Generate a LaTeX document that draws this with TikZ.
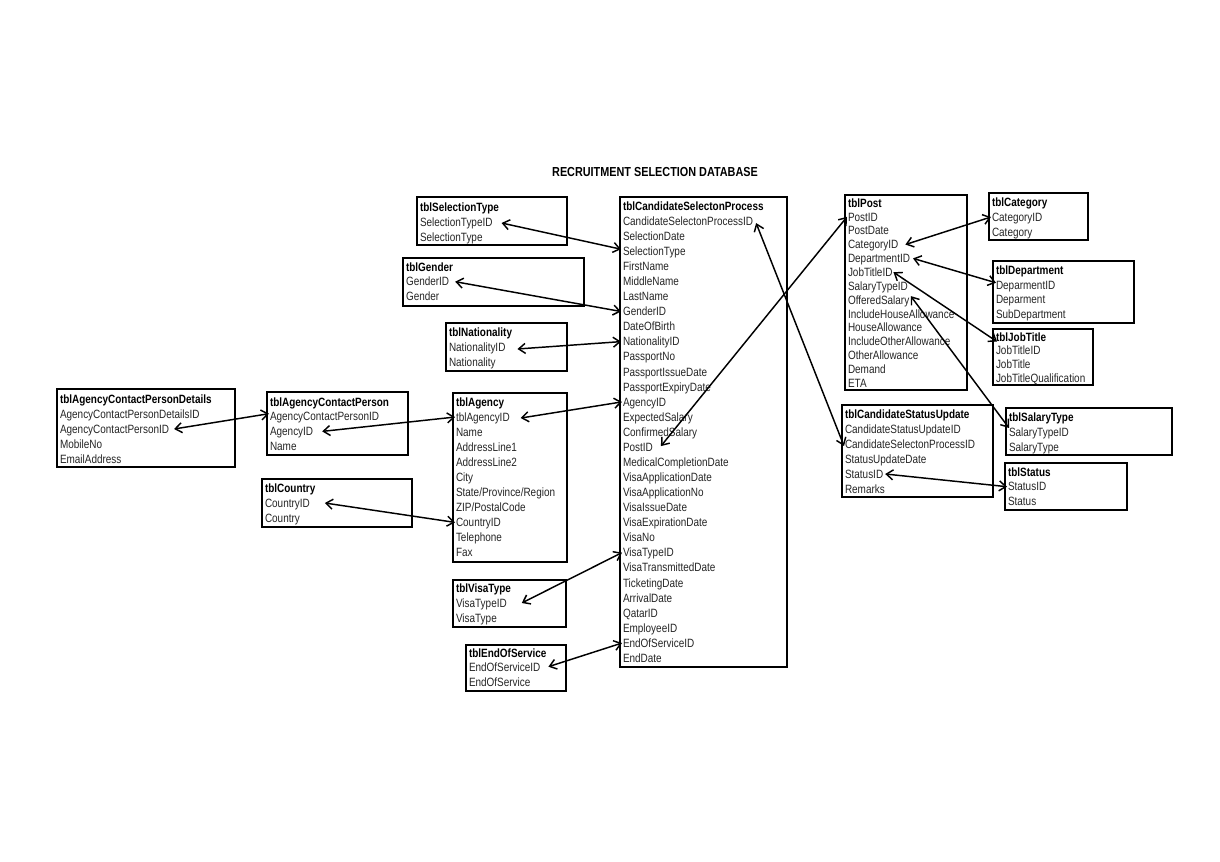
\documentclass[tikz,border=0pt]{standalone}
\usepackage{fontspec}
\setmainfont{Liberation Sans}[FakeStretch=0.83]
\usetikzlibrary{arrows.meta,calc}
\tikzset{
  tbox/.style={draw=black, line width=1.2pt, inner sep=0pt, outer sep=0pt, anchor=north west},
  rowtxt/.style={inner sep=0pt, outer sep=0pt, anchor=west, text height=6.4pt, text depth=0pt,
                 font=\fontsize{9}{10}\selectfont, text=black!85},
  hdrtxt/.style={rowtxt, font=\fontsize{9}{10}\selectfont\bfseries, text=black},
  titletxt/.style={inner sep=0pt, font=\fontsize{9.8}{11}\selectfont\bfseries},
  rel/.style={<->, line width=1.1pt, >={Straight Barb[length=5pt,width=7.5pt,line width=1.1pt]}}
}
% #1 name, #2 left, #3 top, #4 right, #5 bottom, #6 title, #7 header y, #8 row step, #9 rows
\newcommand{\dbtable}[9]{%
  \node[tbox, minimum width={(#4-#2)*0.75pt}, minimum height={(#5-#3)*0.75pt}] (#1) at (#2,#3) {};
  \node[hdrtxt] (#1-0) at ({#2+3},{#7}) {#6};
  \foreach \r [count=\i] in {#9} {
    \node[rowtxt] (#1-\i) at ({#2+3},{#7+\i*#8}) {\r};
  }%
}
\begin{document}
\begin{tikzpicture}[x=0.75pt,y=-0.75pt]
\useasboundingbox[fill=white] (0,0) rectangle (1220,862);

\node[titletxt] (title) at (655,172) {RECRUITMENT SELECTION DATABASE};

\dbtable{st}{417}{197}{567}{245}{tblSelectionType}{207}{15}{SelectionTypeID,SelectionType}
\dbtable{gd}{403}{258}{584}{306}{tblGender}{267}{14.7}{GenderID,Gender}
\dbtable{na}{446}{323}{567}{371}{tblNationality}{332}{15}{NationalityID,Nationality}
\dbtable{cp}{620}{197}{787}{667}{tblCandidateSelectonProcess}{206}{15.07}{CandidateSelectonProcessID,SelectionDate,SelectionType,FirstName,MiddleName,LastName,GenderID,DateOfBirth,NationalityID,PassportNo,PassportIssueDate,PassportExpiryDate,AgencyID,ExpectedSalary,ConfirmedSalary,PostID,MedicalCompletionDate,VisaApplicationDate,VisaApplicationNo,VisaIssueDate,VisaExpirationDate,VisaNo,VisaTypeID,VisaTransmittedDate,TicketingDate,ArrivalDate,QatarID,EmployeeID,EndOfServiceID,EndDate}
\dbtable{acpd}{57}{389}{235}{467}{tblAgencyContactPersonDetails}{399}{15}{AgencyContactPersonDetailsID,AgencyContactPersonID,MobileNo,EmailAddress}
\dbtable{acp}{267}{392}{408}{455}{tblAgencyContactPerson}{402}{14.7}{AgencyContactPersonID,AgencyID,Name}
\dbtable{co}{262}{479}{412}{527}{tblCountry}{488}{15}{CountryID,Country}
\dbtable{ag}{453}{393}{567}{562}{tblAgency}{402}{15.05}{tblAgencyID,Name,AddressLine1,AddressLine2,City,State/Province/Region,ZIP/PostalCode,CountryID,Telephone,Fax}
\dbtable{vt}{453}{580}{566}{627}{tblVisaType}{588}{15}{VisaTypeID,VisaType}
\dbtable{eos}{466}{645}{566}{691}{tblEndOfService}{653}{14.7}{EndOfServiceID,EndOfService}
\dbtable{po}{845}{195}{967}{390}{tblPost}{203}{13.85}{PostID,PostDate,CategoryID,DepartmentID,JobTitleID,SalaryTypeID,OfferedSalary,IncludeHouseAllowance,HouseAllowance,IncludeOtherAllowance,OtherAllowance,Demand,ETA}
\dbtable{cat}{989}{193}{1088}{240}{tblCategory}{202}{15}{CategoryID,Category}
\dbtable{dep}{993}{261}{1134}{323}{tblDepartment}{270}{14.8}{DeparmentID,Deparment,SubDepartment}
\dbtable{jt}{993}{329}{1093}{385}{tblJobTitle}{337}{13.6}{JobTitleID,JobTitle,JobTitleQualification}
\dbtable{csu}{842}{405}{993}{497}{tblCandidateStatusUpdate}{414}{15}{CandidateStatusUpdateID,CandidateSelectonProcessID,StatusUpdateDate,StatusID,Remarks}
\dbtable{sal}{1006}{408}{1172}{455}{tblSalaryType}{417}{15}{SalaryTypeID,SalaryType}
\dbtable{stt}{1005}{463}{1127}{510}{tblStatus}{472}{14.7}{StatusID,Status}

% relationships
\draw[rel] ($(st-1.east)+(9,1)$) -- ($(cp-3.west)+(-2,-2)$);
\draw[rel] ($(gd-1.east)+(6,0)$) -- ($(cp-7.west)+(-2,0)$);
\draw[rel] ($(na-1.east)+(12,2)$) -- ($(cp-9.west)+(-2,0)$);
\draw[rel] ($(acpd-2.east)+(5,0)$) -- ($(acp-1.west)+(-1,-3)$);
\draw[rel] ($(acp-2.east)+(9,0)$) -- ($(ag-1.west)+(-1,0)$);
\draw[rel] ($(ag-1.east)+(11,1)$) -- ($(cp-13.west)+(-1,0)$);
\draw[rel] ($(co-1.east)+(15,0)$) -- ($(ag-8.west)+(-1,0)$);
\draw[rel] ($(vt-1.east)+(15,0)$) -- ($(cp-23.west)+(-1,0)$);
\draw[rel] ($(eos-1.east)+(8,-1)$) -- ($(cp-29.west)+(-1,0)$);
\draw[rel] ($(cp-16.east)+(8,-1)$) -- ($(po-1.west)+(-1,0)$);
\draw[rel] ($(cp-1.east)+(3,2)$) -- ($(csu-2.west)+(-1,2)$);
\draw[rel] ($(po-3.east)+(7,0)$) -- ($(cat-1.west)+(-1,0)$);
\draw[rel] ($(po-4.east)+(3,0)$) -- ($(dep-1.west)+(0,-2)$);
\draw[rel] ($(po-5.east)+(1,0)$) -- ($(jt-1.west)+(1,-9)$);
\draw[rel] ($(po-6.east)+(3,10)$) -- ($(sal-1.west)+(0,-4)$);
\draw[rel] ($(csu-4.east)+(2,0)$) -- ($(stt-1.west)+(-1,0)$);
\end{tikzpicture}
\end{document}
